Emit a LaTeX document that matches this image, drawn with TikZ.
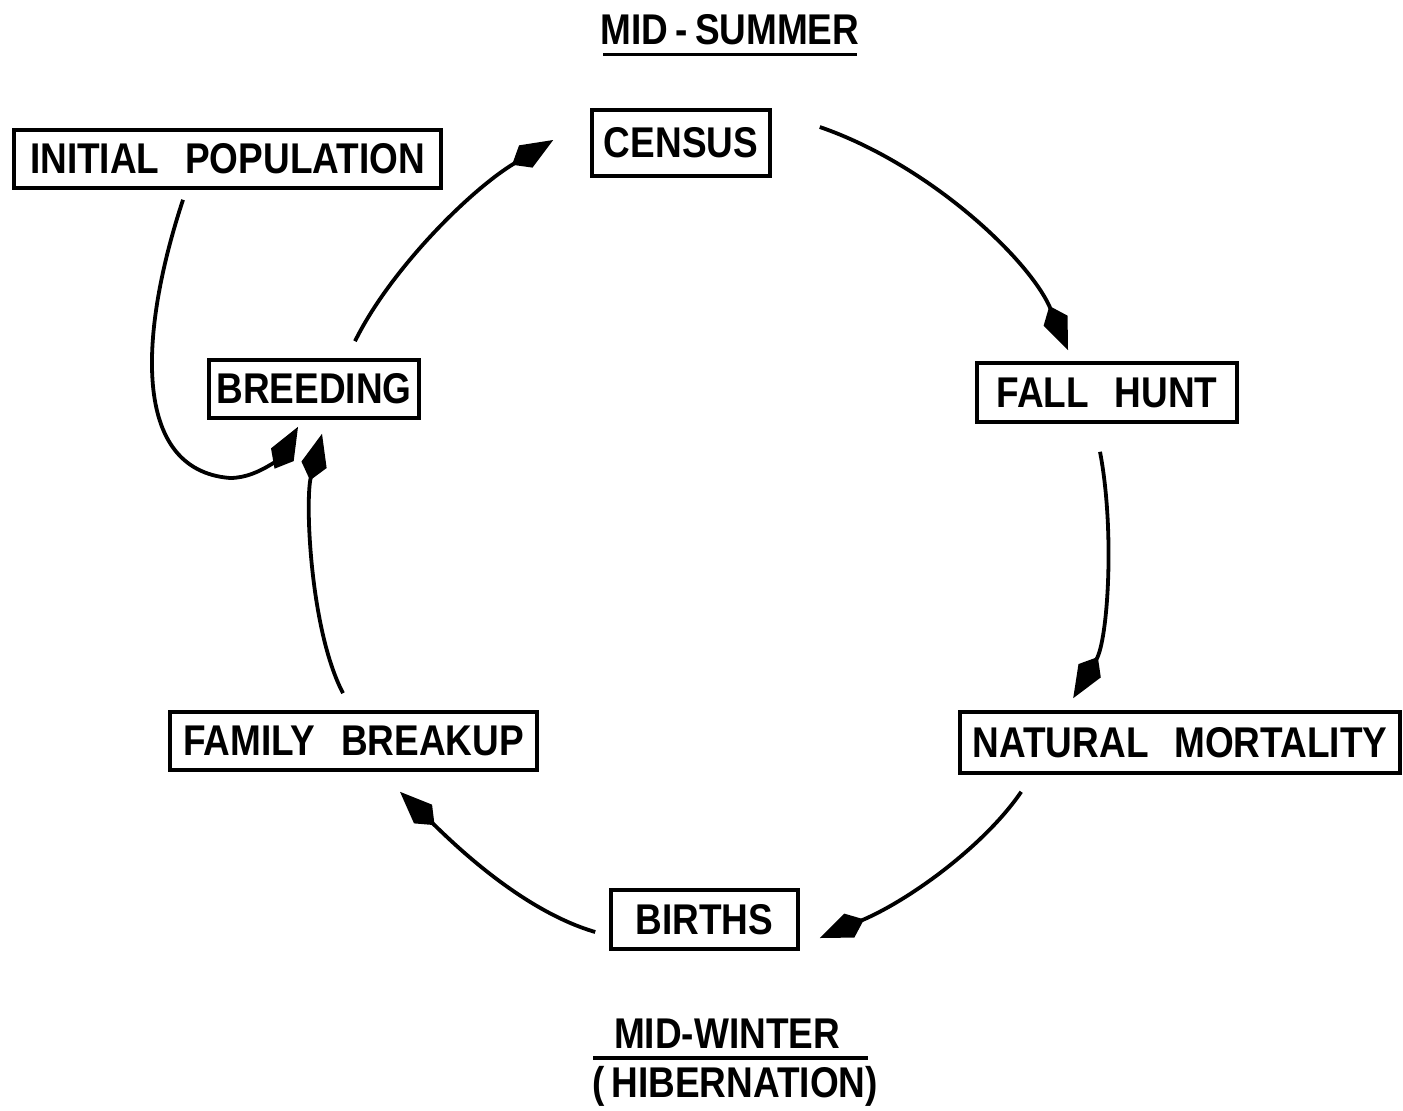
\documentclass[tikz,border=0pt]{standalone}
\usepackage{fontspec}
\setmainfont{Liberation Sans}[FakeStretch=0.86]
\usetikzlibrary{arrows.meta,calc}
\begin{document}
\begin{tikzpicture}[x=0.5pt,y=-0.5pt,
  lab/.style={font=\fontsize{21.5pt}{25pt}\selectfont\bfseries},
  box/.style={draw, line width=1.8pt, lab, inner sep=0pt},
  conn/.style={line width=1.9pt, -{Kite[length=24pt,width=13pt,inset=8pt]}},
  rule/.style={line width=1.8pt}]
\useasboundingbox (0,0) rectangle (1403,1110);
% boxes
\node[box, minimum width=213.5pt, minimum height=29pt] (init) at (227.5,159) {INITIAL\hspace{0.6em}POPULATION};
\node[box, minimum width=89pt, minimum height=33pt] (census) at (681,143) {CENSUS};
\node[box, minimum width=105pt, minimum height=29pt] (breed) at (314,389) {BREEDING};
\node[box, minimum width=130pt, minimum height=29.5pt] (fall) at (1107,392.5) {FALL\hspace{0.6em}HUNT};
\node[box, minimum width=183.5pt, minimum height=29pt] (family) at (353.5,741) {FAMILY\hspace{0.6em}BREAKUP};
\node[box, minimum width=220pt, minimum height=30.5pt] (natural) at (1180,742.5) {NATURAL\hspace{0.6em}MORTALITY};
\node[box, minimum width=93.5pt, minimum height=29.5pt] (births) at (704.5,919.5) {BIRTHS};
% season labels
\node[lab, inner sep=0pt] (summer) at (730,30) {MID\,-\,SUMMER};
\draw[rule] ($(summer.south)+(-127,9)$) coordinate (sl) -- ($(summer.south)+(127,9)$) coordinate (sr);
\node[lab, inner sep=0pt] (winter) at (727,1034) {MID-WINTER};
\draw[rule] ($(winter.south)+(-134,9)$) coordinate (wl) -- ($(winter.south)+(141,9)$) coordinate (wr);
\node[lab, inner sep=0pt] (hib) at (735,1086) {(\,HIBERNATION)};
% connectors
\draw[conn] ($(census.east)+(48,-16)$) .. controls (930,165) and (1030,260) .. ($(fall.north)+(-39,-11)$);
\draw[conn] ($(fall.south)+(-7,28)$) .. controls (1115,530) and (1108,640) .. ($(natural.north west)+(115,-12)$);
\draw[conn] ($(natural.south west)+(63,17)$) .. controls (985,845) and (910,900) .. ($(births.east)+(20,18.5)$);
\draw[conn] ($(births.west)+(-14,12.5)$) .. controls (520,910) and (450,840) .. ($(family.south)+(46.5,20)$);
\draw[conn] ($(family.north)+(-10.5,-17)$) .. controls (310,630) and (305,500) .. ($(breed.south)+(8,14)$);
\draw[conn] ($(breed.north)+(41,-17)$) .. controls (390,270) and (470,190) .. ($(census.west)+(-37,-3)$);
\draw[conn] ($(init.south)+(-44.5,10)$) .. controls (140,330) and (130,470) .. (230,478)
  .. controls (262,478) and (285,450) .. ($(breed.south)+(-16,7)$);
\end{tikzpicture}
\end{document}
